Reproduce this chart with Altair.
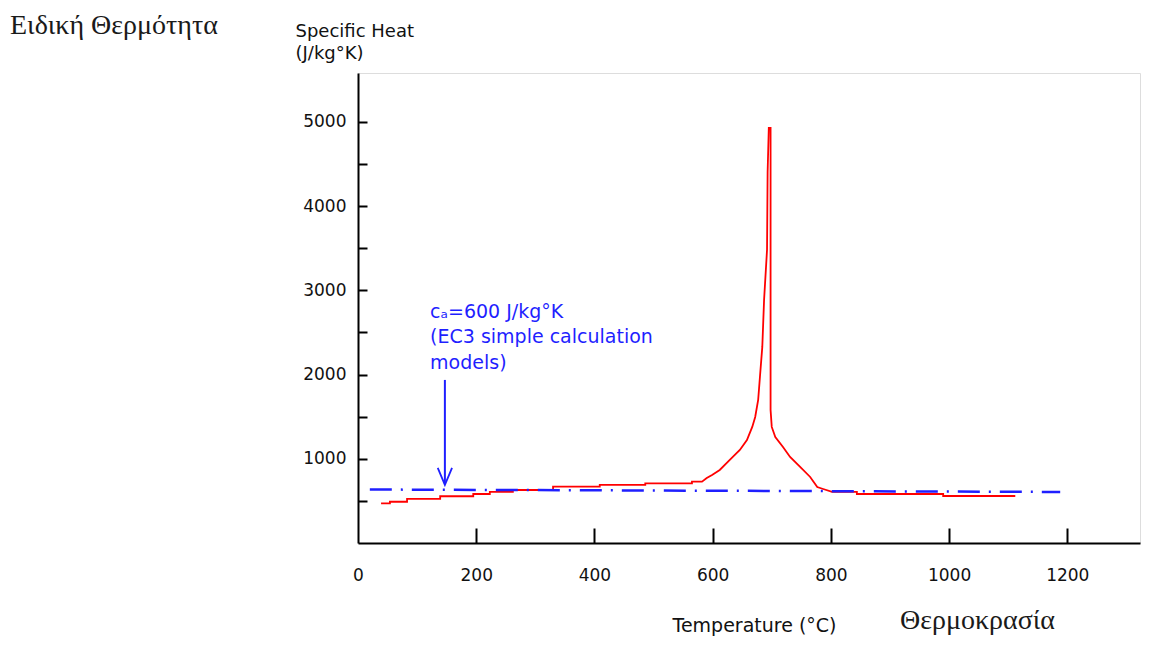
import altair as alt
import pandas as pd

# ---- data ----
temp_c = [39, 54, 54, 83, 83, 139, 139, 195, 195, 223, 223, 262, 262, 330, 330,
          409, 409, 486, 486, 565, 565, 582, 590, 599, 612, 629, 646, 658, 667,
          672, 677, 680, 684, 687, 692, 693, 695, 698, 698, 698, 700, 706, 719,
          731, 748, 765, 777, 787, 802, 844, 844, 990, 990, 1112]
specific_heat = [470, 470, 490, 490, 523, 523, 555, 555, 582, 582, 606, 606, 629, 629, 669,
                 669, 689, 689, 709, 709, 728, 728, 772, 808, 867, 986, 1105, 1223, 1378,
                 1496, 1698, 1971, 2328, 2886, 3480, 4406, 4929, 4929, 3622, 1580, 1378, 1259, 1140,
                 1021, 903, 784, 665, 641, 606, 606, 582, 582, 558, 558]

ec3_temp = [20, 1188]
ec3_heat = [635, 606]

arrow_temp = [147, 147]
arrow_heat = [1936, 700]
arrow_tip_temp = [147]
arrow_tip_heat = [689]

note_lines = ["cₐ=600 J/kg°K", "(EC3 simple calculation", "models)"]
note_temp = [122, 122, 122]
note_heat = [2743, 2447, 2138]

x_ticks = [200, 400, 600, 800, 1000, 1200]
x_labels = [0, 200, 400, 600, 800, 1000, 1200]
y_ticks = [500, 1000, 1500, 2000, 2500, 3000, 3500, 4000, 4500, 5000]
y_labels = [1000, 2000, 3000, 4000, 5000]

title_gr_y = "Ειδική Θερμότητα"
title_gr_x = "Θερμοκρασία"

# ---- tables ----
red_df = pd.DataFrame({"temp": temp_c, "heat": specific_heat, "idx": list(range(len(temp_c)))})
blue_df = pd.DataFrame({"temp": ec3_temp, "heat": ec3_heat})
arrow_df = pd.DataFrame({"temp": arrow_temp, "heat": arrow_heat})
tip_df = pd.DataFrame({"temp": arrow_tip_temp, "heat": arrow_tip_heat})
note_df = pd.DataFrame({"temp": note_temp, "heat": note_heat, "text": note_lines})

W, H = 782, 470
xs = alt.Scale(domain=[0, 1323], nice=False, zero=False)
ys = alt.Scale(domain=[0, 5580], nice=False, zero=False)

SANS = "DejaVu Sans"
SERIF = "Liberation Serif"
BLUE = "#1f1fff"

x_main = alt.Axis(orient="bottom", values=x_labels, format="d", ticks=False, tickSize=0, grid=False,
                  domain=True, domainColor="black", domainWidth=2,
                  labelFont=SANS, labelFontSize=17, labelColor="#111111", labelPadding=24,
                  labelBaseline="top", labelFlush=False,
                  title="Temperature (°C)", titleFont=SANS, titleFontSize=19,
                  titleFontWeight="normal", titleColor="#111111",
                  titleAlign="left", titleBaseline="alphabetic", titleX=314, titleY=88)
y_main = alt.Axis(orient="left", values=y_labels, format="d", ticks=False, tickSize=0, grid=False,
                  domain=True, domainColor="black", domainWidth=2,
                  labelFont=SANS, labelFontSize=17, labelColor="#111111", labelPadding=12,
                  title=["Specific Heat", "(J/kg°K)"], titleFont=SANS, titleFontSize=18,
                  titleFontWeight="normal", titleColor="#111111", titleAngle=0,
                  titleAlign="left", titleBaseline="alphabetic", titleX=-63, titleY=-37,
                  titleLineHeight=22)
x_inner = alt.Axis(orient="top", offset=-H, values=x_ticks, labels=False, domain=False,
                   ticks=True, tickSize=15, tickWidth=2, tickColor="black", grid=False, title=None)
y_inner = alt.Axis(orient="right", offset=-W, values=y_ticks, labels=False, domain=False,
                   ticks=True, tickSize=9, tickWidth=2, tickColor="black", grid=False, title=None)

red = alt.Chart(red_df).mark_line(color="#ff0000", strokeWidth=1.8).encode(
    x=alt.X("temp:Q", scale=xs, axis=x_main),
    y=alt.Y("heat:Q", scale=ys, axis=y_main),
    order="idx:Q",
)

blue = alt.Chart(blue_df).mark_line(color=BLUE, strokeWidth=2.5, strokeDash=[22, 9, 2, 9]).encode(
    x=alt.X("temp:Q", scale=xs, axis=x_inner),
    y=alt.Y("heat:Q", scale=ys, axis=y_inner),
)

arrow = alt.Chart(arrow_df).mark_line(color=BLUE, strokeWidth=2).encode(
    x=alt.X("temp:Q", scale=xs, axis=None),
    y=alt.Y("heat:Q", scale=ys, axis=None),
)

tip = alt.Chart(tip_df).mark_point(
    shape="M -0.42 -1 L 0 0 L 0.42 -1", filled=False, size=1156,
    color=BLUE, strokeWidth=1.8, opacity=1,
).encode(
    x=alt.X("temp:Q", scale=xs, axis=None),
    y=alt.Y("heat:Q", scale=ys, axis=None),
)

note = alt.Chart(note_df).mark_text(align="left", baseline="middle", font=SANS,
                                    fontSize=19, color=BLUE).encode(
    x=alt.X("temp:Q", scale=xs, axis=None),
    y=alt.Y("heat:Q", scale=ys, axis=None),
    text="text:N",
)

gr_y = alt.Chart(alt.Data(values=[{}])).mark_text(
    text=title_gr_y, align="left", baseline="alphabetic", font=SERIF, fontSize=28,
    color="#1a1a1a").encode(x=alt.value(-348), y=alt.value(-39))
gr_x = alt.Chart(alt.Data(values=[{}])).mark_text(
    text=title_gr_x, align="left", baseline="alphabetic", font=SERIF, fontSize=28,
    color="#1a1a1a").encode(x=alt.value(542), y=alt.value(556))

chart = alt.layer(red, blue, arrow, tip, note, gr_y, gr_x).resolve_axis(
    x="independent", y="independent"
).properties(
    width=W, height=H,
    autosize=alt.AutoSizeParams(type="none"),
    padding={"left": 350, "top": 65, "right": 4, "bottom": 94},
).configure_view(stroke=None).configure(background="white")

chart.save("out.html", embed_options={"renderer": "svg", "actions": False})
